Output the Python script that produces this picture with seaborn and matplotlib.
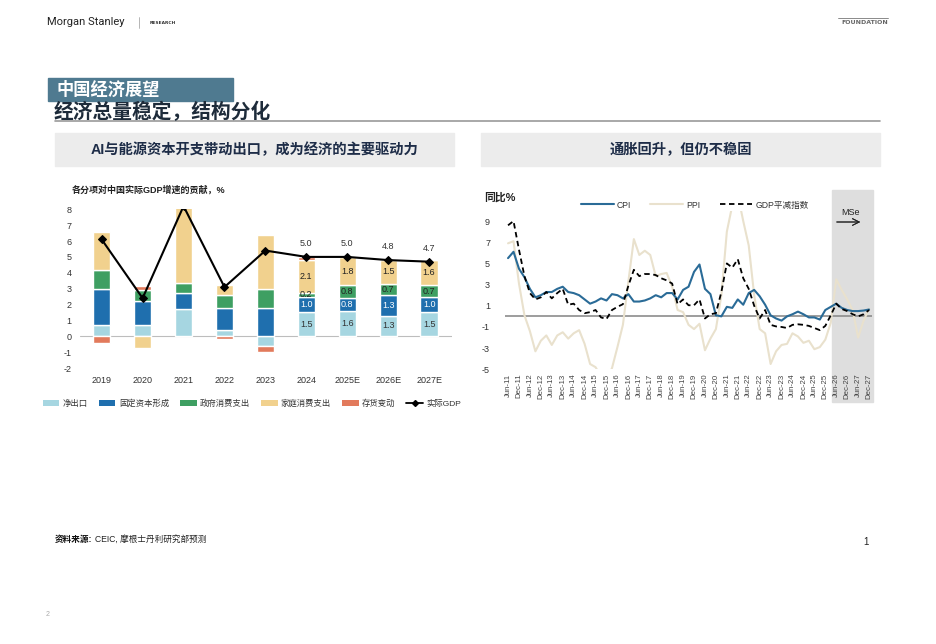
import numpy as np
import pandas as pd
import seaborn as sns
import matplotlib.pyplot as plt
from matplotlib.lines import Line2D
from matplotlib.patches import Rectangle, Patch

sns.set_theme(style='white')
plt.rcParams['font.family'] = ['Liberation Sans', 'Noto Sans CJK SC', 'DejaVu Sans']
plt.rcParams['axes.unicode_minus'] = False

W, H = 936, 644

# ---------------- left chart data: contributions to real GDP growth ----------------
years = ['2019', '2020', '2021', '2022', '2023', '2024', '2025E', '2026E', '2027E']
net_exports = [0.7, 0.7, 1.7, 0.4, -0.6, 1.5, 1.6, 1.3, 1.5]
fixed_capital = [2.25, 1.5, 1.0, 1.35, 1.75, 1.0, 0.8, 1.3, 1.0]
gov_consumption = [1.2, 0.7, 0.65, 0.85, 1.25, 0.2, 0.8, 0.7, 0.7]
household_consumption = [2.4, -0.75, 4.8, 0.65, 3.35, 2.1, 1.8, 1.5, 1.6]
inventory = [-0.45, 0.25, 0.0, -0.15, -0.4, 0.2, 0.0, 0.0, 0.0]
real_gdp = [6.1, 2.4, 8.2, 3.1, 5.4, 5.0, 5.0, 4.8, 4.7]

comp_names = ['净出口', '固定资本形成', '政府消费支出', '家庭消费支出', '存货变动']
comp_colors = ['#a6d6e1', '#1f6fae', '#3e9f62', '#f1d18e', '#e27a5c']

# ---------------- right chart data: quarterly, Jun-11 .. Dec-27 ----------------
cpi = [5.5, 6.1, 4.5, 3.7, 2.6, 1.8, 2.0, 2.3, 2.3, 2.6,
       2.8, 2.3, 2.2, 2.0, 1.6, 1.2, 1.4, 1.7, 1.5, 2.1,
       2.0, 1.7, 2.1, 1.4, 1.4, 1.5, 1.7, 2.0, 1.8, 2.2,
       2.2, 1.6, 2.5, 2.8, 4.2, 4.9, 2.6, 2.1, 0.1, 0.0,
       0.9, 0.8, 1.6, 1.1, 2.2, 2.5, 1.9, 1.1, 0.1, -0.2,
       -0.4, 0.0, 0.2, 0.45, 0.2, -0.1, -0.1, -0.3, 0.6, 0.9,
       1.2, 0.8, 0.6, 0.5, 0.5, 0.55, 0.65]
ppi = [6.9, 7.1, 3.1, 0.1, -1.4, -3.3, -2.3, -1.8, -2.7, -1.8,
       -1.5, -2.1, -1.6, -1.3, -2.6, -4.5, -4.8, -5.7, -5.9, -4.9,
       -2.9, -0.8, 3.3, 7.3, 5.8, 6.2, 5.8, 3.8, 4.0, 4.1,
       2.8, 0.6, 0.4, -0.8, -1.2, -0.7, -3.2, -2.1, -1.2, 2.0,
       8.0, 10.5, 11.5, 9.0, 6.7, 2.0, -1.2, -1.6, -4.5, -3.3,
       -2.7, -2.6, -1.6, -1.9, -2.5, -2.3, -3.1, -2.9, -2.2, -0.6,
       3.5, 2.5, 1.6, 0.6, -2.0, -0.4, 0.7]
deflator = [8.6, 9.0, 6.3, 3.8, 2.2, 1.6, 1.8, 2.3, 1.7, 2.2,
            2.6, 1.1, 1.2, 0.6, 0.3, 0.4, 0.6, -0.1, -0.25, 0.6,
            0.9, 1.15, 2.9, 4.4, 3.8, 4.0, 4.0, 3.9, 3.6, 3.4,
            3.1, 1.15, 1.6, 1.05, 1.05, 1.6, -0.2, 0.2, 0.3, 2.3,
            5.0, 4.6, 5.4, 3.6, 2.6, 1.0, -0.2, 0.6, -0.8, -0.95,
            -1.0, -1.1, -0.8, -0.75, -0.8, -0.9, -1.1, -1.3, -0.9, 0.1,
            1.2, 0.7, 0.5, 0.2, 0.0, 0.2, 0.6]
tick_labels = [f'{m}-{y:02d}' for y in range(11, 28) for m in ('Jun', 'Dec')]


def fx(x):
    return x / W


def fy(y):
    return 1 - y / H


fig = plt.figure(figsize=(W / 100, H / 100), dpi=100)
fig.patch.set_facecolor('white')

# ---------------- page header ----------------
fig.text(fx(47), fy(22), 'Morgan Stanley', family='Roboto', fontsize=8,
         color='#222222', va='center')
fig.add_artist(Line2D([fx(139), fx(139)], [fy(17), fy(28)], lw=0.5, color='#999999'))
fig.text(fx(150), fy(22.5), 'RESEARCH', family='DejaVu Sans', fontsize=3.2,
         weight='bold', color='#333333', va='center')
fig.add_artist(Line2D([fx(838), fx(888)], [fy(18), fy(18)], lw=0.6, color='#777777'))
fig.text(fx(888), fy(23), 'FOUNDATION', family='DejaVu Sans', fontsize=4.5,
         weight='bold', color='#666666', va='center', ha='right')

fig.add_artist(Rectangle((fx(48), fy(101)), (233 - 48) / W, (101 - 78) / H,
                         transform=fig.transFigure, color='#4f7a90', zorder=0))
fig.text(fx(57), fy(89.5), '中国经济展望', fontsize=12.4, weight='bold',
         color='white', va='center')
fig.text(fx(54), fy(112), '经济总量稳定，结构分化', fontsize=14.2, weight='bold',
         color='#1d2b3a', va='center')
fig.add_artist(Line2D([fx(55), fx(880)], [fy(121), fy(121)], lw=1.2, color='#9a9a9a'))

for x0, x1, txt in [(55, 454, 'AI与能源资本开支带动出口，成为经济的主要驱动力'),
                    (481, 880, '通胀回升，但仍不稳固')]:
    fig.add_artist(Rectangle((fx(x0), fy(166)), (x1 - x0) / W, (166 - 133) / H,
                             transform=fig.transFigure, color='#ececec', zorder=0))
    fig.text(fx((x0 + x1) / 2), fy(150), txt, fontsize=10.3, weight='bold',
             color='#1e2d48', ha='center', va='center')

# ---------------- left chart ----------------
ax1 = fig.add_axes([fx(80), fy(368), (452 - 80) / W, (368 - 209.3) / H])
ax1.set_facecolor('none')
x = np.arange(len(years))
comp = pd.DataFrame(dict(zip(comp_names, [net_exports, fixed_capital, gov_consumption,
                                          household_consumption, inventory])), index=years)
pos_base = np.zeros(len(years))
neg_base = np.zeros(len(years))
label_colors = ['#333333', 'white', '#222222', '#222222', None]
for name, color, lc in zip(comp_names, comp_colors, label_colors):
    vals = comp[name].to_numpy()
    bottom = np.where(vals >= 0, pos_base, neg_base)
    ax1.bar(x, vals, width=0.42, bottom=bottom, color=color, zorder=2)
    if lc is not None:
        for i in range(5, len(years)):
            ax1.text(x[i], bottom[i] + vals[i] / 2, f'{vals[i]:.1f}', ha='center',
                     va='center', fontsize=6.5, color=lc, zorder=4)
    pos_base += np.clip(vals, 0, None)
    neg_base += np.clip(vals, None, 0)

sns.lineplot(x=x, y=real_gdp, ax=ax1, color='black', lw=1.5, marker='D',
             markersize=4, markeredgecolor='black', zorder=3)
for i in range(5, len(years)):
    ax1.text(x[i], real_gdp[i] + 0.55, f'{real_gdp[i]:.1f}', ha='center',
             va='bottom', fontsize=6.5, color='#333333')
ax1.axhline(0, color='#bdbdbd', lw=0.8, zorder=1)
ax1.set_xlim(-0.53, 8.56)
ax1.set_ylim(-2, 8)
ax1.set_yticks(range(-2, 9))
ax1.set_xticks(x, years)
ax1.tick_params(axis='y', length=0, labelsize=6.5, pad=6, labelcolor='#333333')
ax1.tick_params(axis='x', length=0, labelsize=6.5, pad=6, labelcolor='#333333')
sns.despine(ax=ax1, left=True, bottom=True)
fig.text(fx(72), fy(190), '各分项对中国实际GDP增速的贡献，%', fontsize=6.5,
         weight='bold', color='#222222', va='center')

handles = [Patch(facecolor=c, edgecolor='none') for c in comp_colors]
handles.append(Line2D([], [], color='black', lw=1.3, marker='D', markersize=3))
fig.legend(handles, comp_names + ['实际GDP'], loc='center',
           bbox_to_anchor=(fx(252), fy(404)), ncol=6, frameon=False, fontsize=6,
           handlelength=2.0, handleheight=0.7, columnspacing=1.3,
           handletextpad=0.4, labelcolor='#333333')

# ---------------- right chart ----------------
ax2 = fig.add_axes([fx(505.3), fy(369.3), (871.8 - 505.3) / W, (369.3 - 210.5) / H])
ax2.set_facecolor('none')
fig.add_artist(Rectangle((fx(832), fy(402)), (873 - 832) / W, (402 - 190) / H,
                         transform=fig.transFigure, color='#dedede', zorder=-1))
q = np.arange(len(cpi))
ax2.axhline(0, color='#8c8c8c', lw=1.2, zorder=1)
sns.lineplot(x=q, y=ppi, ax=ax2, color='#e9e1cd', lw=1.5, zorder=2)
sns.lineplot(x=q, y=cpi, ax=ax2, color='#2a6b97', lw=1.5, zorder=3)
sns.lineplot(x=q, y=deflator, ax=ax2, color='black', lw=1.3, zorder=4)
ax2.lines[-1].set_linestyle((0, (3, 2)))
ax2.set_xlim(-0.5, 66.5)
ax2.set_ylim(-5, 10)
ax2.set_yticks([-5, -3, -1, 1, 3, 5, 7, 9])
ax2.set_xticks(range(0, len(cpi), 2), tick_labels, rotation=90)
ax2.tick_params(axis='y', length=0, labelsize=6.5, pad=11, labelcolor='#333333')
ax2.tick_params(axis='x', length=0, labelsize=5.6, pad=3, labelcolor='#444444')
sns.despine(ax=ax2, left=True, bottom=True)

fig.text(fx(484), fy(197), '同比%', fontsize=7.8, weight='bold', color='#222222',
         va='center')
fig.text(fx(850), fy(212), 'MSe', fontsize=6.5, color='#222222', ha='center', va='center')
fig.add_artist(plt.annotate('', xy=(fx(863), fy(222)), xytext=(fx(834), fy(222)),
                            xycoords='figure fraction',
                            arrowprops=dict(arrowstyle='->', lw=0.7, color='#222222')))

r_handles = [Line2D([], [], color='#2a6b97', lw=1.5),
             Line2D([], [], color='#e9e1cd', lw=1.5),
             Line2D([], [], color='black', lw=1.3, ls=(0, (3, 2)))]
fig.legend(r_handles, ['CPI', 'PPI', 'GDP平减指数'], loc='center',
           bbox_to_anchor=(fx(695), fy(205)), ncol=3, frameon=False, fontsize=6.2,
           handlelength=3.8, columnspacing=2.2, handletextpad=0.4,
           labelcolor='#333333')

# ---------------- footer ----------------
fig.text(fx(55), fy(539), '资料来源:', fontsize=6.2, weight='bold', color='#111111',
         va='center')
fig.text(fx(95), fy(539), 'CEIC, 摩根士丹利研究部预测', fontsize=6.2, color='#222222',
         va='center')
fig.text(fx(866), fy(542), '1', fontsize=7, color='#222222', ha='center', va='center')
fig.text(fx(48), fy(614), '2', fontsize=5, color='#aaaaaa', ha='center', va='center')

fig.savefig('out.png', dpi=100)
